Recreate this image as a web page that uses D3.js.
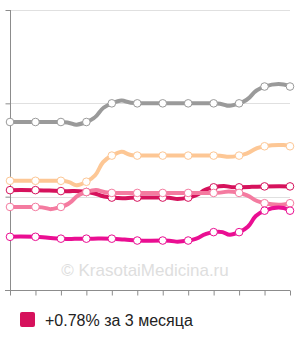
<!DOCTYPE html>
<html><head><meta charset="utf-8">
<script src="https://cdn.jsdelivr.net/npm/d3@7"></script>
<style>body{margin:0;background:#fff}svg{display:block}</style>
</head><body>
<svg id="c" width="300" height="340"></svg>
<script>
const months = d3.range(12);
const gray    = [1.80,1.80,1.80,1.80,2.00,2.00,2.00,2.00,2.00,2.00,2.18,2.18];
const orange  = [1.17,1.17,1.17,1.16,1.44,1.44,1.44,1.44,1.44,1.44,1.54,1.54];
const crimson = [1.07,1.07,1.06,1.05,0.99,0.99,0.99,0.99,1.10,1.10,1.11,1.11];
const pink    = [0.89,0.89,0.89,1.05,1.04,1.04,1.04,1.04,1.04,1.04,0.93,0.93];
const magenta = [0.57,0.57,0.55,0.55,0.55,0.53,0.53,0.53,0.62,0.62,0.85,0.85];
const yTicks = [0,1,2,3];
const legendLabel = "+0.78% за 3 месяца";
const watermark = "© KrasotaiMedicina.ru";

const series = [
  {v: gray, c: "#9a9a9a"},
  {v: orange, c: "#fdc795"},
  {v: crimson, c: "#d6125c"},
  {v: pink, c: "#f47ba0"},
  {v: magenta, c: "#ea0e92"}
];

const svg = d3.select("#c");
const x = d3.scalePoint().domain(months).range([10, 290]);
const y = d3.scaleLinear().domain([0, 3]).range([290, 10]);

// gridlines
svg.append("g").selectAll("line").data(yTicks.filter(d => d > 0)).join("line")
  .attr("x1", 10).attr("x2", 290)
  .attr("y1", d => Math.round(y(d)) + 0.5).attr("y2", d => Math.round(y(d)) + 0.5)
  .attr("stroke", "#e0e0e0").attr("stroke-width", 1);

// watermark
svg.append("text").attr("x", 145).attr("y", 276).attr("text-anchor", "middle")
  .attr("font-family", "Liberation Sans, Arial, sans-serif").attr("font-size", 17)
  .attr("fill", "#dedede").text(watermark);

// axes
const yAxis = d3.axisLeft(y).tickValues(yTicks).tickSize(5).tickFormat("");
const gy = svg.append("g").attr("transform", "translate(10.5,0)").call(yAxis);
const xAxis = d3.axisBottom(x).tickSize(5).tickFormat("");
const gx = svg.append("g").attr("transform", "translate(0,290.5)").call(xAxis);
[gy, gx].forEach(g => {
  g.select(".domain").attr("stroke", "#8c8c8c");
  g.selectAll(".tick line").attr("stroke", "#8c8c8c");
});
gx.select(".domain").attr("d", "M5,0H290");
gy.select(".domain").attr("d", "M0,10V290");

const line = d3.line().x((d, i) => x(i)).y(d => y(d)).curve(d3.curveCardinal.tension(-1));

series.forEach(s => {
  svg.append("path").attr("d", line(s.v)).attr("fill", "none")
    .attr("stroke", s.c).attr("stroke-width", 4).attr("stroke-linejoin", "round");
});
series.forEach(s => {
  svg.append("g").selectAll("circle").data(s.v).join("circle")
    .attr("cx", (d, i) => x(i)).attr("cy", d => y(d)).attr("r", 3.8)
    .attr("fill", "#fff").attr("stroke", s.c).attr("stroke-width", 1);
});

// legend
svg.append("rect").attr("x", 20).attr("y", 312).attr("width", 15).attr("height", 15)
  .attr("rx", 2).attr("fill", "#d6125c");
svg.append("text").attr("x", 45).attr("y", 326)
  .attr("font-family", "Liberation Sans, Arial, sans-serif").attr("font-size", 16)
  .attr("fill", "#222").text(legendLabel);
</script>
</body></html>
